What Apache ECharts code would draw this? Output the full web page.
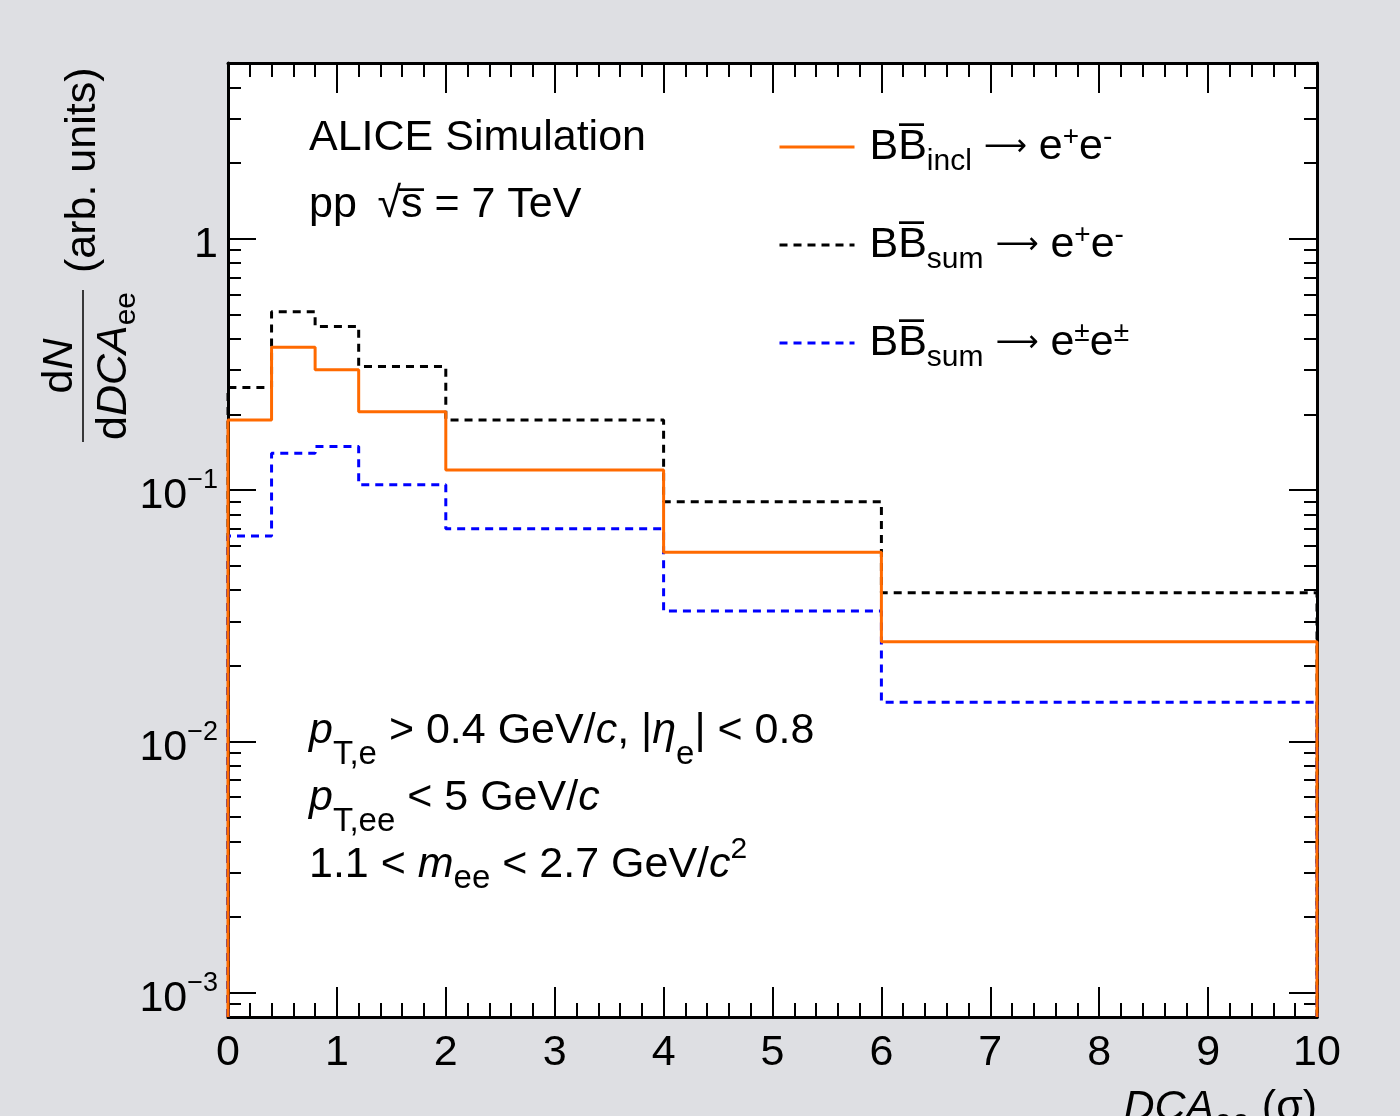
<!DOCTYPE html>
<html>
<head>
<meta charset="utf-8">
<script src="https://cdn.jsdelivr.net/npm/echarts@6/dist/echarts.min.js"></script>
<style>
html,body{margin:0;padding:0;background:#dedfe3;}
#c{width:1400px;height:1116px;}
</style>
</head>
<body>
<div id="c"></div>
<script>
// ---------------- data ----------------
const binEdges = [0, 0.4, 0.8, 1.2, 2, 4, 6, 10];
const bbInclOS = [0.190, 0.370, 0.301, 0.205, 0.120, 0.0565, 0.0249];   // BBbar incl -> e+e-
const bbSumOS  = [0.256, 0.512, 0.447, 0.310, 0.190, 0.0898, 0.0390];   // BBbar sum -> e+e-
const bbSumLS  = [0.0656, 0.140, 0.149, 0.105, 0.0701, 0.0330, 0.0143]; // BBbar sum -> e±e±
const xRange = [0, 10];
const yRange = [8e-4, 5];
const yMajorTicks = [0.001, 0.01, 0.1, 1];
const yMinorMultipliers = [2, 3, 4, 5, 6, 7, 8, 9];
const seriesNames = ['incl', 'sumOS', 'sumLS'];

// ---------------- helpers ----------------
const FONT = '"Liberation Sans", Arial, Helvetica, sans-serif';
const yMinorTicks = [];
[0.0001].concat(yMajorTicks).forEach(d => yMinorMultipliers.forEach(k => {
  const v = Number((k * d).toPrecision(3));
  if (v >= yRange[0] && v <= yRange[1]) yMinorTicks.push(v);
}));

function outline(vals) {
  const pts = [[binEdges[0], yRange[0]]];
  vals.forEach((v, i) => { pts.push([binEdges[i], v]); pts.push([binEdges[i + 1], v]); });
  pts.push([binEdges[binEdges.length - 1], yRange[0]]);
  return pts;
}

const axisLineStyle = {color: '#000', width: 3};
const tickStyle = {color: '#000', width: 2};

function yAx(pos, ticks, len, labels, line) {
  return {
    type: 'log', logBase: 10, position: pos, min: yRange[0], max: yRange[1],
    axisLine: {show: line, onZero: false, lineStyle: axisLineStyle},
    axisTick: {show: true, inside: true, length: len, customValues: ticks, lineStyle: tickStyle},
    minorTick: {show: false},
    splitLine: {show: false},
    axisLabel: labels ? {
      show: true, customValues: yMajorTicks, margin: 10, padding: [13, 0, 0, 0],
      fontFamily: FONT, fontSize: 43, lineHeight: 58, color: '#000',
      formatter: function (v) {
        const e = Math.round(Math.log10(v));
        return e === 0 ? '{b|1}' : '{b|10}{s|\u2212' + Math.abs(e) + '}';
      },
      rich: {
        b: {fontFamily: FONT, fontSize: 43, lineHeight: 58, color: '#000'},
        s: {fontFamily: FONT, fontSize: 27, lineHeight: 26, verticalAlign: 'top', color: '#000'}
      }
    } : {show: false}
  };
}

function xAx(pos, labels) {
  return {
    type: 'value', position: pos, min: xRange[0], max: xRange[1], interval: 1,
    axisLine: {show: true, onZero: false, lineStyle: axisLineStyle},
    axisTick: {show: true, inside: true, length: 30, lineStyle: tickStyle},
    minorTick: {show: true, splitNumber: 5, length: 14, lineStyle: tickStyle},
    splitLine: {show: false}, minorSplitLine: {show: false},
    axisLabel: labels ? {show: true, margin: 11, fontFamily: FONT, fontSize: 43, lineHeight: 50, color: '#000'} : {show: false}
  };
}

const subS = (l, fs) => ({fontFamily: FONT, fontSize: fs || 30, lineHeight: l, verticalAlign: 'bottom', fill: '#000', color: '#000'});
const supS = (l, fs, pad) => ({fontFamily: FONT, fontSize: fs || 30, lineHeight: l, verticalAlign: 'top', padding: [pad || 0, 0, 0, 0], fill: '#000', color: '#000'});
const itS = (l) => ({fontFamily: FONT, fontSize: 43, lineHeight: l, fontStyle: 'italic', fill: '#000', color: '#000'});
const arS = {fontFamily: '"DejaVu Sans", sans-serif', fontSize: 30, lineHeight: 60, fill: '#000', color: '#000'};

function txt(x, y, text, L, rich, align) {
  return {
    type: 'text', x: x, y: y, silent: true,
    style: {text: text, fill: '#000', fontFamily: FONT, fontSize: 43, lineHeight: L,
            align: align || 'left', verticalAlign: 'middle', rich: rich || {}}
  };
}

const legendText = {
  incl:  'BB\u0305{sub|incl} {ar|\u27f6} e{sup|+}e{sup|-}',
  sumOS: 'BB\u0305{sub|sum} {ar|\u27f6} e{sup|+}e{sup|-}',
  sumLS: 'BB\u0305{sub|sum} {ar|\u27f6} e{sup|\u00b1}e{sup|\u00b1}'
};

// ---------------- chart ----------------
const chart = echarts.init(document.getElementById('c'), null, {renderer: 'canvas'});
chart.setOption({
  backgroundColor: '#dedfe3',
  animation: false,
  grid: {left: 228, right: 83, top: 63, bottom: 99, show: true, backgroundColor: '#ffffff', borderWidth: 0, containLabel: false},
  xAxis: [xAx('bottom', true), xAx('top', false)],
  yAxis: [
    yAx('left', yMajorTicks, 28, true, true),
    yAx('left', yMinorTicks, 13, false, false),
    yAx('right', yMajorTicks, 28, false, true),
    yAx('right', yMinorTicks, 13, false, false)
  ],
  legend: {
    orient: 'vertical', left: 778, top: 117, padding: 0, itemGap: 38,
    itemWidth: 75, itemHeight: 14, selectedMode: false,
    data: seriesNames,
    lineStyle: {width: 3, opacity: 1},
    itemStyle: {opacity: 0, borderWidth: 0},
    formatter: n => legendText[n],
    textStyle: {
      fontFamily: FONT, fontSize: 43, lineHeight: 60, color: '#000', padding: [0, 0, 0, 10],
      rich: {sub: subS(28), sup: supS(28, 28, 6), ar: arS}
    }
  },
  series: [
    {name: 'sumOS', type: 'line', xAxisIndex: 0, yAxisIndex: 0, symbol: 'none', showSymbol: false, z: 2,
     lineStyle: {color: '#000000', width: 3, type: [8, 6]}, itemStyle: {color: '#000000'}, data: outline(bbSumOS)},
    {name: 'sumLS', type: 'line', xAxisIndex: 0, yAxisIndex: 0, symbol: 'none', showSymbol: false, z: 3,
     lineStyle: {color: '#0000ff', width: 3, type: [8, 6]}, itemStyle: {color: '#0000ff'}, data: outline(bbSumLS)},
    {name: 'incl', type: 'line', xAxisIndex: 0, yAxisIndex: 0, symbol: 'none', showSymbol: false, z: 4,
     lineStyle: {color: '#ff6a00', width: 3}, itemStyle: {color: '#ff6a00'}, data: outline(bbInclOS)}
  ],
  graphic: [
    txt(309, 138, 'ALICE Simulation', 50),
    txt(309, 205, 'pp \u2009\u221As\u0305 = 7 TeV', 50),
    txt(309, 731, '{i|p}{sub|T,e} > 0.4 GeV/{i|c}, |{i|\u03b7}{sub|e}| < 0.8', 80, {i: itS(80), sub: subS(26, 33)}),
    txt(309, 798, '{i|p}{sub|T,ee} < 5 GeV/{i|c}', 80, {i: itS(80), sub: subS(26, 33)}),
    txt(309, 865, '1.1 < {i|m}{sub|ee} < 2.7 GeV/{i|c}{sup|2}', 60, {i: itS(60), sub: subS(30, 33), sup: supS(20, 30, 0)}),
    txt(1317, 1108, '{i|DCA}{sub|ee} (\u03c3)', 60, {i: itS(60), sub: subS(30, 32)}, 'right'),
    {
      type: 'group', x: 83, y: 366, rotation: Math.PI / 2, silent: true,
      children: [
        {type: 'line', shape: {x1: -76, y1: 0, x2: 76, y2: 0}, style: {stroke: '#000', lineWidth: 1.5}},
        txt(0, -23, 'd{i|N}', 50, {i: itS(50)}, 'center'),
        txt(0, 31, 'd{i|DCA}{sub|ee}', 56, {i: itS(56), sub: subS(28)}, 'center'),
        txt(93, 0, '(arb. units)', 50, {}, 'left')
      ]
    }
  ]
});
</script>
</body>
</html>
